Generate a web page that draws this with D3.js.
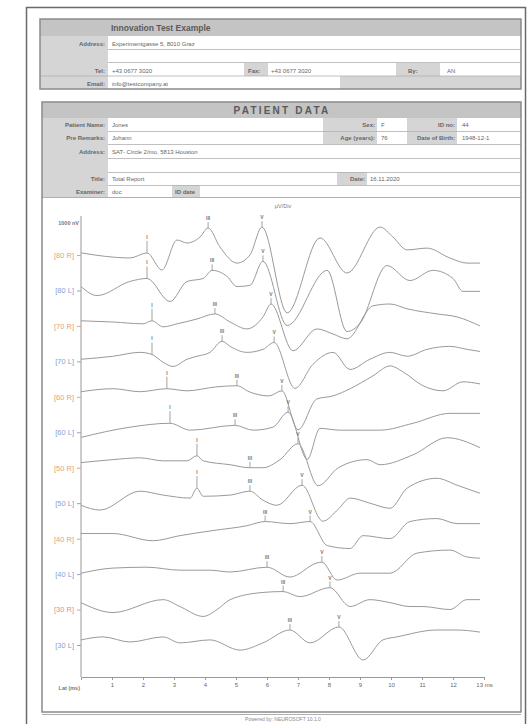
<!DOCTYPE html>
<html>
<head>
<meta charset="utf-8">
<script src="https://cdn.jsdelivr.net/npm/d3@7"></script>
<style>
  body { margin: 0; background: #fff; }
  svg { display: block; font-family: "Liberation Sans", Arial, sans-serif; }
</style>
</head>
<body>
<div id="chart"></div>
<script>
// channels (intensity + ear), top to bottom
var channels = ["80 R", "80 L", "70 R", "70 L", "60 R", "60 L", "50 R", "50 L", "40 R", "40 L", "30 R", "30 L"];
var timeTicks = [1, 2, 3, 4, 5, 6, 7, 8, 9, 10, 11, 12, 13];

// waveforms: [latency ms, amplitude uV]
var wave01 = [[0,0.07],[1.58,-0.1],[2.13,0.07],[2.61,-0.5],[3.1,0.5],[3.42,0.4],[3.84,0.6],[4.1,0.9],[4.48,0.27],[5.03,-0.27],[5.45,0],[5.84,0.93],[6.65,-1.93],[7.71,0.57],[8.58,-0.6],[9.65,0.93],[10.06,0.6],[10.52,0.17],[11.16,0.23],[11.9,-0.1],[12.45,-0.27],[12.87,-0.27]];
var wave02 = [[0,0.13],[0.52,-0.17],[1.58,0.3],[2.13,0.4],[2.87,-0.37],[3.42,0.3],[3.94,0.4],[4.23,0.67],[4.71,0.47],[5.03,0.13],[5.45,0.17],[5.87,0.97],[6.65,-1.17],[7.94,0.67],[8.58,-1.37],[9.0,-1.1],[9.87,0.83],[10.61,0.33],[11.35,0.67],[12.0,0.4],[12.32,-0.03],[12.87,-0.03]];
var wave03 = [[0,0.17],[1.03,0.13],[2.0,0.07],[2.29,0.17],[2.65,-0.03],[3.1,0.07],[3.74,0.23],[4.32,0.4],[4.81,0.13],[5.35,-0.1],[5.87,0.3],[6.13,0.73],[6.84,-0.83],[7.61,-0.1],[8.13,-0.27],[8.58,-0.43],[9.42,0.67],[9.97,0.73],[10.52,0.57],[11.48,0.4],[12.13,0.3],[12.87,0]];
var wave04 = [[0,0.07],[1.03,0.17],[1.9,0.3],[2.29,0.23],[2.65,-0.03],[2.97,-0.17],[3.42,0.07],[3.74,0.17],[4.16,0.3],[4.55,0.67],[4.81,0.5],[5.35,0.3],[5.87,0.4],[6.23,0.63],[6.9,-0.9],[7.48,-0.1],[8.13,0.3],[8.68,-0.27],[9.32,0.07],[9.97,0.3],[10.52,0.17],[11.16,0.4],[11.9,0.5],[12.45,0.4],[12.87,0.33]];
var wave05 = [[0,0.17],[1.03,0.27],[1.9,0.17],[2.77,0.27],[3.42,0.2],[4.35,0.33],[5.03,0.37],[5.42,0.17],[6.06,0.03],[6.48,0.2],[7.0,-1.1],[7.61,-0.07],[8.13,0.03],[8.68,0.27],[9.42,0.7],[9.97,1.03],[10.39,0.83],[11.03,0.37],[11.68,0.2],[12.32,0.5],[12.87,0.43]];
var wave06 = [[0,-0.17],[1.58,0.17],[2.87,0.3],[3.52,0.07],[4.97,0.23],[5.55,0.07],[6.19,0.17],[6.68,0.67],[7.3,-0.9],[7.71,0.13],[8.35,0.07],[9.65,0.07],[10.71,0.3],[11.9,0.63],[12.87,0.63]];
var wave07 = [[0,0.17],[1.03,0.27],[1.9,0.33],[2.65,0.23],[3.42,0.23],[3.74,0.4],[3.94,0.23],[4.81,0.1],[5.45,0],[5.87,0],[6.42,0.27],[7.0,0.8],[7.65,-0.6],[8.3,0],[9.23,0.27],[9.65,0.1],[10.71,0.43],[11.81,1.0],[12.87,0.67]];
var wave08 = [[0,-0.07],[0.61,-0.23],[1.9,0.4],[2.65,0.27],[3.52,0.17],[3.74,0.5],[3.94,0.23],[4.81,0.27],[5.45,0.4],[5.87,0.1],[6.32,-0.07],[7.13,0.6],[7.8,-0.6],[8.3,-0.2],[8.68,0.17],[9.32,0],[9.97,-0.17],[10.52,0.5],[11.48,0.83],[12.13,0.6],[12.87,0.33]];
var wave09 = [[0,0.17],[1.03,0.17],[2.32,-0.07],[3.19,0.1],[4.26,0.27],[5.35,0.43],[5.94,0.57],[6.74,0.5],[7.39,0.57],[7.94,-0.23],[8.68,-0.33],[9.1,0.1],[9.97,0],[10.61,0.57],[11.48,0.67],[12.13,0.5],[12.87,0.5]];
var wave10 = [[0,0.03],[1.03,0.2],[2.13,0.23],[3.19,0.13],[4.16,0.13],[4.81,0.07],[6.0,0.23],[6.74,-0.1],[7.61,0.37],[7.77,0.4],[8.26,-0.2],[9.0,0.03],[9.97,0.03],[10.84,0.7],[11.9,0.8],[12.45,0.57],[12.87,0.53]];
var wave11 = [[0,0.23],[1.03,-0.1],[2.65,0.33],[3.19,0.1],[3.94,-0.23],[4.39,0],[4.81,0.33],[5.87,0.57],[6.52,0.6],[7.06,0.43],[8.03,0.73],[8.68,0.1],[9.32,0.33],[9.97,0.23],[10.61,0.1],[11.03,0.1],[11.9,0],[12.45,0.33],[12.87,0.33]];
var wave12 = [[0,0.17],[0.71,0.27],[1.58,0.1],[2.65,0.27],[3.19,0.07],[4.16,0.17],[5.13,-0.17],[5.87,0.07],[6.74,0.5],[7.39,0.07],[8.32,0.6],[9.1,-0.5],[9.74,0.17],[10.19,0.27],[11.48,0.5],[12.13,0.5],[12.87,0.43]];
var waves = [wave01, wave02, wave03, wave04, wave05, wave06, wave07, wave08, wave09, wave10, wave11, wave12];

// peak latencies (ms) for waves I, III, V
var peakI   = [2.13, 2.13, 2.29, 2.29, 2.77, 2.87, 3.74, 3.74, null, null, null, null];
var peakIII = [4.1, 4.23, 4.32, 4.55, 5.03, 4.97, 5.45, 5.45, 5.94, 6.0, 6.52, 6.74];
var peakV   = [5.84, 5.87, 6.13, 6.23, 6.48, 6.68, 7.0, 7.13, 7.39, 7.77, 8.03, 8.32];

var W = 527, H = 724;
var svg = d3.select("#chart").append("svg")
    .attr("width", W)
    .attr("height", H);

var grayLabel = "#d5d5d5", grayTitle = "#c4c4c4", lineCol = "#b0b0b0", txt = "#666";

function box(x, y, w, h, fill, stroke) {
    svg.append("rect")
        .attr("x", x).attr("y", y)
        .attr("width", w).attr("height", h)
        .attr("fill", fill)
        .attr("stroke", stroke || "none");
}
function label(x, y, s, anchor, size, weight, col) {
    svg.append("text")
        .attr("x", x).attr("y", y)
        .attr("text-anchor", anchor || "start")
        .attr("font-size", size || 6)
        .attr("font-weight", weight || "normal")
        .attr("fill", col || txt)
        .text(s);
}
function hline(x1, x2, y, col) {
    svg.append("line")
        .attr("x1", x1).attr("x2", x2)
        .attr("y1", y).attr("y2", y)
        .attr("stroke", col || lineCol)
        .attr("stroke-width", 0.8);
}

// outer page frame
svg.append("rect")
    .attr("x", 26.5).attr("y", 7.5)
    .attr("width", 499).attr("height", 720)
    .attr("fill", "none")
    .attr("stroke", "#6a6a6a")
    .attr("stroke-width", 1.5);

// ---- company header ----
box(40, 19, 481, 70, "#fff");
box(40, 19, 481, 17, grayTitle);
box(40, 36, 68, 53, grayLabel);
box(244, 63, 24, 13, grayLabel);
box(396, 63, 44, 13, grayLabel);
box(340, 76, 181, 13, grayLabel);
hline(108, 521, 49.5);
hline(108, 521, 62.5);
hline(40, 521, 76);
svg.append("rect").attr("x", 40).attr("y", 19).attr("width", 481).attr("height", 70)
    .attr("fill", "none").attr("stroke", "#8a8a8a").attr("stroke-width", 1.5);

label(111, 31, "Innovation Test Example", "start", 8.5, "bold", "#5a5a5a");
label(105, 46, "Address:", "end", 6, "bold");
label(112, 46, "Experimentgasse 5, 8010 Graz");
label(105, 73, "Tel:", "end", 6, "bold");
label(112, 73, "+43 0677 3020");
label(248, 73, "Fax:", "start", 6, "bold");
label(271, 73, "+43 0677 3020");
label(408, 73, "By:", "start", 6, "bold");
label(447, 73, "AN");
label(105, 86, "Email:", "end", 6, "bold");
label(112, 86, "info@testcompany.at");

// ---- patient data ----
box(42, 102, 479, 610, "#fff");
box(42, 102, 479, 16, grayTitle);
box(42, 118, 66, 79, grayLabel);
box(323, 118, 54, 26, grayLabel);
box(407, 118, 50, 26, grayLabel);
box(337, 172, 30, 13, grayLabel);
box(172, 185, 28, 12, grayLabel);
[131, 144, 158, 172, 185].forEach(function (y) { hline(108, 521, y + 0.5); });
hline(42, 521, 197.5, "#9a9a9a");
svg.append("rect").attr("x", 42).attr("y", 102).attr("width", 479).attr("height", 610)
    .attr("fill", "none").attr("stroke", "#8a8a8a").attr("stroke-width", 1.5);
hline(42, 521, 714.5, "#9a9a9a");

svg.append("text")
    .attr("x", 282).attr("y", 114)
    .attr("text-anchor", "middle")
    .attr("font-size", 10).attr("font-weight", "bold")
    .attr("letter-spacing", 2.2)
    .attr("fill", "#5a5a5a")
    .text("PATIENT DATA");

label(105, 127, "Patient Name:", "end", 6, "bold");
label(112, 127, "Jones");
label(375, 127, "Sex:", "end", 6, "bold");
label(381, 127, "F");
label(455, 127, "ID no:", "end", 6, "bold");
label(462, 127, "44");
label(105, 140, "Pre Remarks:", "end", 6, "bold");
label(112, 140, "Johann");
label(375, 140, "Age (years):", "end", 6, "bold");
label(381, 140, "76");
label(455, 140, "Date of Birth:", "end", 6, "bold");
label(462, 140, "1948-12-1");
label(105, 154, "Address:", "end", 6, "bold");
label(112, 154, "SAT- Circle 2/mo, 5813 Houston");
label(105, 181, "Title:", "end", 6, "bold");
label(112, 181, "Total Report");
label(365, 181, "Date:", "end", 6, "bold");
label(370, 181, "16.11.2020");
label(105, 194, "Examiner:", "end", 6, "bold");
label(112, 194, "doc");
label(175, 194, "ID date", "start", 6, "bold");

// ---- ABR chart ----
var x = d3.scaleLinear().domain([0, 13]).range([81, 484]);
var row = d3.scalePoint().domain(channels).range([255, 645]);
var amp = d3.scaleLinear().domain([0, 1]).range([0, -30]);

var xAxis = d3.axisBottom(x)
    .tickValues(timeTicks)
    .tickSize(3)
    .tickFormat(function (d) { return d === 13 ? "13 ms" : d; });
var gx = svg.append("g")
    .attr("transform", "translate(0,677)")
    .call(xAxis);
gx.select(".domain").attr("stroke", "#999");
gx.selectAll(".tick line").attr("stroke", "#999");
gx.selectAll("text").attr("font-size", 6).attr("fill", txt).attr("font-family", "Liberation Sans, Arial, sans-serif");

var yAxis = d3.axisLeft(row).tickSize(4).tickSizeOuter(0);
var gy = svg.append("g")
    .attr("transform", "translate(81,0)")
    .call(yAxis);
gy.select(".domain").attr("d", "M0,216V677").attr("stroke", "#999");
gy.selectAll(".tick line").attr("stroke", function (d) { return /R$/.test(d) ? "#e3a27a" : "#8aa3cf"; });
gy.selectAll("text")
    .attr("font-size", 7.5)
    .attr("font-family", "Liberation Sans, Arial, sans-serif")
    .attr("fill", function (d, i) {
        if (i === 10) return "#e58d8d";
        return /R$/.test(d) ? "#e3a27a" : "#8aa3cf";
    })
    .text(function (d) { return "[" + d + "]"; });

label(79, 225, "1000 nV", "end", 5.5, "bold", "#777");
label(80, 690, "Lat (ms)", "end", 5.5, "bold", "#777");
label(283, 208, "\u00b5V/Div", "middle", 5.5, "normal", "#777");

var line = d3.line()
    .x(function (d) { return x(d[0]); })
    .y(function (d) { return d[2] + amp(d[1]); })
    .curve(d3.curveMonotoneX);

function ampAt(w, t) {
    for (var k = 1; k < w.length; k++) {
        if (t <= w[k][0]) {
            var a = w[k - 1], b = w[k];
            return a[1] + (b[1] - a[1]) * (t - a[0]) / (b[0] - a[0]);
        }
    }
    return w[w.length - 1][1];
}

waves.forEach(function (w, i) {
    var base = row(channels[i]);
    svg.append("path")
        .datum(w.map(function (d) { return [d[0], d[1], base]; }))
        .attr("d", line)
        .attr("fill", "none")
        .attr("stroke", "#9a9a9a")
        .attr("stroke-width", 1);

    var marks = [["I", peakI[i], 12], ["III", peakIII[i], 6], ["V", peakV[i], 6]];
    marks.forEach(function (m) {
        if (m[1] == null) return;
        var px = x(m[1]);
        var py = base + amp(ampAt(w, m[1]));
        svg.append("line")
            .attr("x1", px).attr("x2", px)
            .attr("y1", py).attr("y2", py - m[2])
            .attr("stroke", "#999")
            .attr("stroke-width", 0.9);
        svg.append("text")
            .attr("x", px).attr("y", py - m[2] - 2)
            .attr("text-anchor", "middle")
            .attr("font-size", 5)
            .attr("font-weight", "bold")
            .attr("fill", "#777")
            .text(m[0]);
    });
});

label(283, 721, "Powered by: NEUROSOFT 10.1.0", "middle", 5, "normal", "#888");
</script>
</body>
</html>
